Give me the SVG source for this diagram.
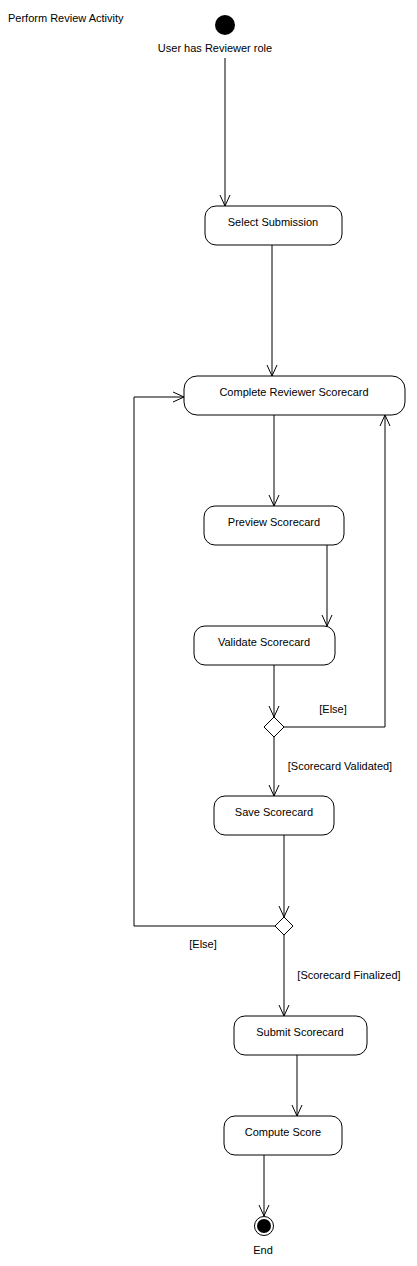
<svg xmlns="http://www.w3.org/2000/svg" width="417" height="1266" viewBox="0 0 417 1266">
<style>
text{font-family:"Liberation Sans",Arial,sans-serif;font-size:11px;fill:#000}
.n rect{fill:#fff;stroke:#000;stroke-width:1}
.n text{text-anchor:middle}
.c path{fill:none;stroke:#000;stroke-width:1}
.d{fill:#fff;stroke:#000;stroke-width:1}
</style>
<defs>
<marker id="a" viewBox="0 0 12 12" refX="11" refY="6" markerWidth="12" markerHeight="12" markerUnits="userSpaceOnUse" orient="auto">
<path d="M0,1 L11,6 L0,11" fill="none" stroke="#000" stroke-width="1"/>
</marker>
</defs>
<rect width="417" height="1266" fill="#fff"/>
<text x="8" y="22">Perform Review Activity</text>
<g id="start"><circle cx="225" cy="25" r="10" fill="#000"/><text x="215" y="52" text-anchor="middle">User has Reviewer role</text></g>
<g class="c" id="connectors">
<path d="M225,58 V206" marker-end="url(#a)"/>
<path d="M272,245 V376" marker-end="url(#a)"/>
<path d="M274,415 V506" marker-end="url(#a)"/>
<path d="M327,545 V626" marker-end="url(#a)"/>
<path d="M274,665 V717" marker-end="url(#a)"/>
<path d="M284,727 H385 V415" marker-end="url(#a)"/>
<path d="M274,737 V796" marker-end="url(#a)"/>
<path d="M284,835 V917" marker-end="url(#a)"/>
<path d="M275,926 H134 V397 H184" marker-end="url(#a)"/>
<path d="M284,935 V1016" marker-end="url(#a)"/>
<path d="M297,1055 V1116" marker-end="url(#a)"/>
<path d="M264,1155 V1216" marker-end="url(#a)"/>
</g>
<g id="labels">
<text x="333" y="713" text-anchor="middle">[Else]</text>
<text x="340" y="770" text-anchor="middle">[Scorecard Validated]</text>
<text x="203" y="948" text-anchor="middle">[Else]</text>
<text x="349" y="979" text-anchor="middle">[Scorecard Finalized]</text>
</g>
<g class="n" id="select"><rect x="205" y="206" width="137" height="39" rx="11" ry="11"/><text x="273" y="226">Select Submission</text></g>
<g class="n" id="complete"><rect x="184" y="376" width="221" height="39" rx="13" ry="13"/><text x="294" y="396">Complete Reviewer Scorecard</text></g>
<g class="n" id="preview"><rect x="204" y="506" width="140" height="39" rx="11" ry="11"/><text x="274" y="526">Preview Scorecard</text></g>
<g class="n" id="validate"><rect x="194" y="626" width="141" height="39" rx="11" ry="11"/><text x="264" y="646">Validate Scorecard</text></g>
<g id="decision1"><polygon class="d" points="274,717 284,727 274,737 264,727"/></g>
<g class="n" id="save"><rect x="214" y="796" width="120" height="39" rx="11" ry="11"/><text x="274" y="816">Save Scorecard</text></g>
<g id="decision2"><polygon class="d" points="284,917 293,926 284,935 275,926"/></g>
<g class="n" id="submit"><rect x="234" y="1016" width="133" height="39" rx="11" ry="11"/><text x="300" y="1036">Submit Scorecard</text></g>
<g class="n" id="compute"><rect x="224" y="1116" width="118" height="39" rx="11" ry="11"/><text x="283" y="1136">Compute Score</text></g>
<g id="end"><circle cx="264" cy="1226" r="9.5" fill="#fff" stroke="#000"/><circle cx="264" cy="1226" r="7" fill="#000"/><text x="263" y="1254" text-anchor="middle">End</text></g>
</svg>
